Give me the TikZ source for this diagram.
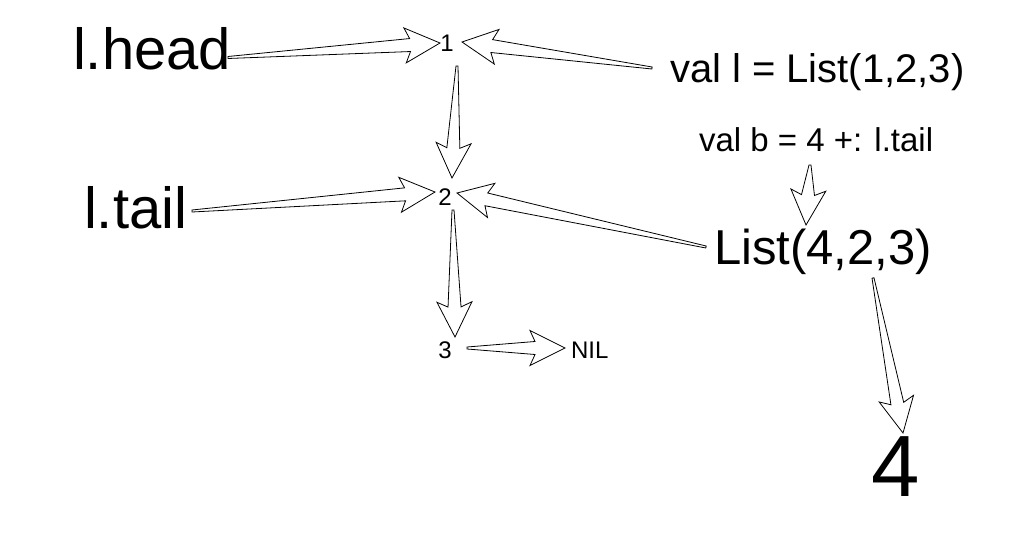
\documentclass[tikz,border=0pt]{standalone}
\usepackage{fontspec}
\setmainfont{Liberation Sans}
\usetikzlibrary{calc}
\tikzset{
  fatarr/.style={draw=black,fill=white,line width=0.8pt,line join=miter},
  lbl/.style={inner sep=0pt,outer sep=0pt,anchor=base west},
  hugetext/.style={lbl,font=\fontsize{58}{60}\selectfont},
  smalltext/.style={inner sep=0pt,outer sep=0pt,anchor=base,font=\fontsize{24}{26}\selectfont},
}
% fat hollow arrow from coordinate #1 (tail) to coordinate #2 (tip)
\newcommand\fatarrow[2]{%
  \path let \p1=($(#2)-(#1)$) in \pgfextra{%
    \pgfmathsetmacro\faang{atan2(\y1,\x1)}%
    \pgfmathsetmacro\falen{veclen(\x1,\y1)}%
    \global\let\faang\faang\global\let\falen\falen};
  \draw[fatarr,shift={(#1)},rotate=\faang]
    (0pt,1pt) -- (\falen pt-30pt,6.5pt) -- (\falen pt-35pt,17.5pt) -- (\falen pt,0pt)
    -- (\falen pt-35pt,-17.5pt) -- (\falen pt-30pt,-6.5pt) -- (0pt,-1pt) -- cycle;
}
\begin{document}
\begin{tikzpicture}[x=1pt,y=-1pt]
\useasboundingbox (0,0) rectangle (1030,540);
% texts
\node[hugetext] (lhead) at (73,70) {l.head};
\node[hugetext] (ltail) at (84,228) {l.tail};
\node[smalltext] (n1) at (447,52) {1};
\node[smalltext] (n2) at (445,205) {2};
\node[smalltext] (n3) at (445,358) {3};
\node[smalltext,anchor=base west] (nil) at (571,358) {NIL};
\node[lbl,font=\fontsize{40}{42}\selectfont] (vall) at (670,83) {val l = List(1,2,3)};
\node[lbl,font=\fontsize{33}{35}\selectfont] (valb) at (699,152) {val b = 4 +: l.tail};
\node[lbl,font=\fontsize{49}{51}\selectfont] (list) at (714,264) {List(4,2,3)};
\node[lbl,font=\fontsize{87}{89}\selectfont] (four) at (871,496) {4};
% connector end points
\coordinate (a1s) at (228,57.5); \coordinate (a1t) at (440,43);
\coordinate (a2s) at (652,68);   \coordinate (a2t) at (462,42);
\coordinate (a3s) at (457,66);   \coordinate (a3t) at (452,178);
\coordinate (a4s) at (192,211);  \coordinate (a4t) at (435,192);
\coordinate (a5s) at (706,247);  \coordinate (a5t) at (457,193);
\coordinate (a6s) at (453,210);  \coordinate (a6t) at (455,337);
\coordinate (a7s) at (467,348);  \coordinate (a7t) at (565,348);
\coordinate (a8s) at (810,165);  \coordinate (a8t) at (806,225);
\coordinate (a9s) at (873,278);  \coordinate (a9t) at (903,433);
\fatarrow{a1s}{a1t}
\fatarrow{a2s}{a2t}
\fatarrow{a3s}{a3t}
\fatarrow{a4s}{a4t}
\fatarrow{a5s}{a5t}
\fatarrow{a6s}{a6t}
\fatarrow{a7s}{a7t}
\fatarrow{a8s}{a8t}
\fatarrow{a9s}{a9t}
\end{tikzpicture}
\end{document}
